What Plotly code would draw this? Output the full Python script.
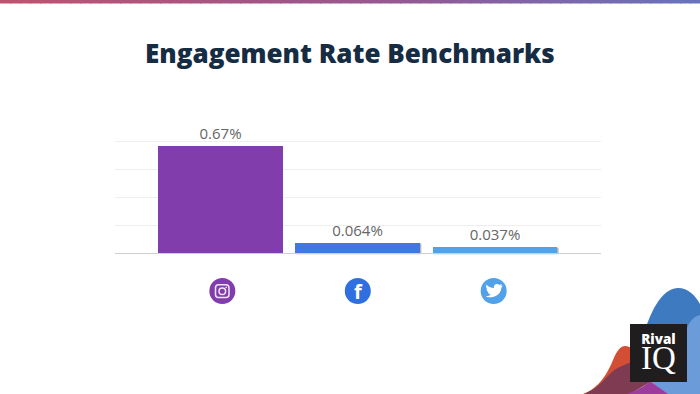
import plotly.graph_objects as go

W, H = 700, 394
# plot box: 160 px per 1.0 of rate, baseline at y=253; extended so the icon row fits
L, R, T, B = 115, 601, 133, 317

networks = ["Instagram", "Facebook", "Twitter"]
rates = [0.67, 0.064, 0.037]
rate_labels = ["0.67%", "0.064%", "0.037%"]
bar_colors = ["#803dab", "#4177e0", "#52a2ea"]
icon_colors = ["#803dab", "#2f6fe0", "#52a2ea"]
grid_values = [0, 0.175, 0.35, 0.525, 0.7]
title_text = "Engagement Rate Benchmarks"
bar_pos = [0, 1, 2]
icon_pos = [0.013, 1, 1.99]
icon_level = [-0.2375, -0.2375, -0.2375]


def px(x):
    return (x - L) / (R - L)


def py(y):
    return (B - y) / (B - T)


def path(points):
    out = []
    for cmd, *xy in points:
        out.append(cmd + " ".join(f"{px(xy[i]):.5f},{py(xy[i+1]):.5f}" for i in range(0, len(xy), 2)))
    return " ".join(out) + " Z"


shapes = []


def lerp(a, b, t):
    return int(a + (b - a) * t)


# top gradient stripe
n = 70
c0, c1, c2 = (192, 82, 112), (150, 88, 145), (105, 115, 190)
for i in range(n):
    t = i / (n - 1)
    if t < 0.55:
        u = t / 0.55
        c = [lerp(c0[k], c1[k], u) for k in range(3)]
    else:
        u = (t - 0.55) / 0.45
        c = [lerp(c1[k], c2[k], u) for k in range(3)]
    shapes.append(dict(type="rect", xref="paper", yref="paper",
                       x0=px(i * W / n), x1=px((i + 1) * W / n + 1), y0=py(0), y1=py(3.5),
                       fillcolor=f"rgb({c[0]},{c[1]},{c[2]})", line_width=0, layer="below"))


def deco(fill, pts):
    return dict(type="path", xref="paper", yref="paper", layer="below", line_width=0, fillcolor=fill, path=path(pts))


# decorative hills, lower right corner
shapes += [
    deco("#3d7abf", [("M", 645, 330), ("C", 654, 302, 666, 288, 678, 288), ("C", 688, 288, 695, 295, 700, 304),
                     ("L", 700, 340), ("L", 645, 340)]),
    deco("#6b9bd8", [("M", 687, 328), ("C", 690, 320, 695, 316, 700, 315), ("L", 700, 394), ("L", 667, 394),
                     ("L", 650, 381), ("L", 687, 381)]),
    deco("#d24f35", [("M", 583, 394), ("C", 600, 388, 608, 372, 613, 360), ("C", 617, 350, 621, 346, 625, 346),
                     ("C", 628, 346, 630, 347, 632, 349), ("L", 632, 365), ("L", 600, 394)]),
    deco("#7e3b52", [("M", 584, 394), ("C", 598, 389, 605, 378, 612, 372), ("C", 618, 367, 624, 365, 632, 362),
                     ("L", 632, 381), ("L", 652, 381), ("L", 630, 394)]),
    deco("#9c3d9e", [("M", 627, 394), ("C", 635, 391, 644, 387, 650, 381), ("L", 668, 394)]),
    dict(type="rect", xref="paper", yref="paper", layer="below", line_width=0, fillcolor="#1f1d1e",
         x0=px(630), x1=px(687), y0=py(324), y1=py(382)),
]

# Instagram glyph
glyph = "#efe6f5"
shapes += [
    dict(type="path", xref="paper", yref="paper", layer="above", line=dict(color=glyph, width=1.5),
         path=path([("M", 218.5, 284.8), ("L", 226, 284.8), ("C", 228, 284.8, 229, 286, 229, 288), ("L", 229, 294.5),
                    ("C", 229, 296.5, 228, 297.5, 226, 297.5), ("L", 218.5, 297.5), ("C", 216.5, 297.5, 215.5, 296.5, 215.5, 294.5),
                    ("L", 215.5, 288), ("C", 215.5, 286, 216.5, 284.8, 218.5, 284.8)])),
    dict(type="circle", xref="paper", yref="paper", x0=px(219), x1=px(225.6), y0=py(288), y1=py(294.6),
         line=dict(color=glyph, width=1.5), layer="above"),
    dict(type="circle", xref="paper", yref="paper", x0=px(225.4), x1=px(227), y0=py(286.6), y1=py(288.2),
         fillcolor=glyph, line_width=0, layer="above"),
]
# Twitter glyph
shapes.append(dict(type="path", xref="paper", yref="paper", layer="above", line_width=0, fillcolor="#ffffff",
                   path=path([("M", 485.5, 296.5), ("C", 491, 299, 501, 296, 501.5, 287.5), ("L", 503, 285.5),
                              ("L", 501, 286), ("L", 502, 284), ("L", 499.5, 285), ("C", 497, 282.5, 493, 284.5, 494, 288),
                              ("C", 491, 288, 488, 286.5, 486.5, 284.5), ("C", 485.5, 286.5, 486.5, 288.5, 487.5, 289.5),
                              ("L", 486.5, 289), ("C", 486.5, 290.5, 487.5, 292, 489, 292.5), ("L", 488, 292.5),
                              ("C", 488.5, 294, 490, 294.5, 491, 294.5), ("C", 490, 295.5, 487.5, 296.5, 485.5, 296.5)])))

# soft shadows under the two short bars
for i in (1, 2):
    shapes.append(dict(type="rect", xref="x", yref="y", x0=i - 0.45, x1=i + 0.463, y0=-0.008, y1=rates[i] - 0.004,
                       fillcolor="rgba(70,70,70,0.4)", line_width=0, layer="below"))

fig = go.Figure()
fig.add_bar(x=bar_pos, y=rates, width=0.91, marker=dict(color=bar_colors, line_width=0),
            text=rate_labels, textposition="outside", cliponaxis=False,
            textfont=dict(family="Open Sans", size=15, color="#666666"), showlegend=False, hoverinfo="skip")
fig.add_scatter(x=icon_pos, y=icon_level, mode="markers", showlegend=False, hoverinfo="skip",
                marker=dict(size=26, color=icon_colors, line_width=0))

logo_text = ('<span style="font-size:13.5px;font-weight:800">Rival</span><br>'
             '<span style="font-family:Liberation Serif;font-size:33px">IQ</span>')

fig.update_layout(
    width=W, height=H, margin=dict(l=L, r=W - R, t=T, b=H - B, autoexpand=False),
    paper_bgcolor="white", plot_bgcolor="white", shapes=shapes, bargap=0,
    xaxis=dict(range=[-0.769, 2.772], showgrid=False, zeroline=False, showticklabels=False, ticks="",
               showline=False, fixedrange=True),
    yaxis=dict(range=[-0.4, 0.75], tickvals=grid_values, showticklabels=False, ticks="", gridcolor="#eeeeee", gridwidth=1,
               griddash="solid", zeroline=True, zerolinecolor="#cfcfcf", zerolinewidth=1, showline=False, fixedrange=True),
    annotations=[
        dict(text=title_text, xref="paper", yref="paper", x=px(350), y=py(53), xanchor="center", yanchor="middle",
             showarrow=False, font=dict(family="Open Sans", size=26, color="#152c42", weight=800)),
        dict(text="f", xref="paper", yref="paper", x=px(358), y=py(291.5), xanchor="center", yanchor="middle",
             showarrow=False, font=dict(family="Open Sans", size=20, color="white", weight=700)),
        dict(text=logo_text, xref="paper", yref="paper", x=px(658.5), y=py(353), xanchor="center", yanchor="middle",
             showarrow=False, font=dict(family="Open Sans", size=19, color="white")),
    ],
)
fig.write_html("out.html", config={"displayModeBar": False}, post_script="document.body.style.margin='0';")
